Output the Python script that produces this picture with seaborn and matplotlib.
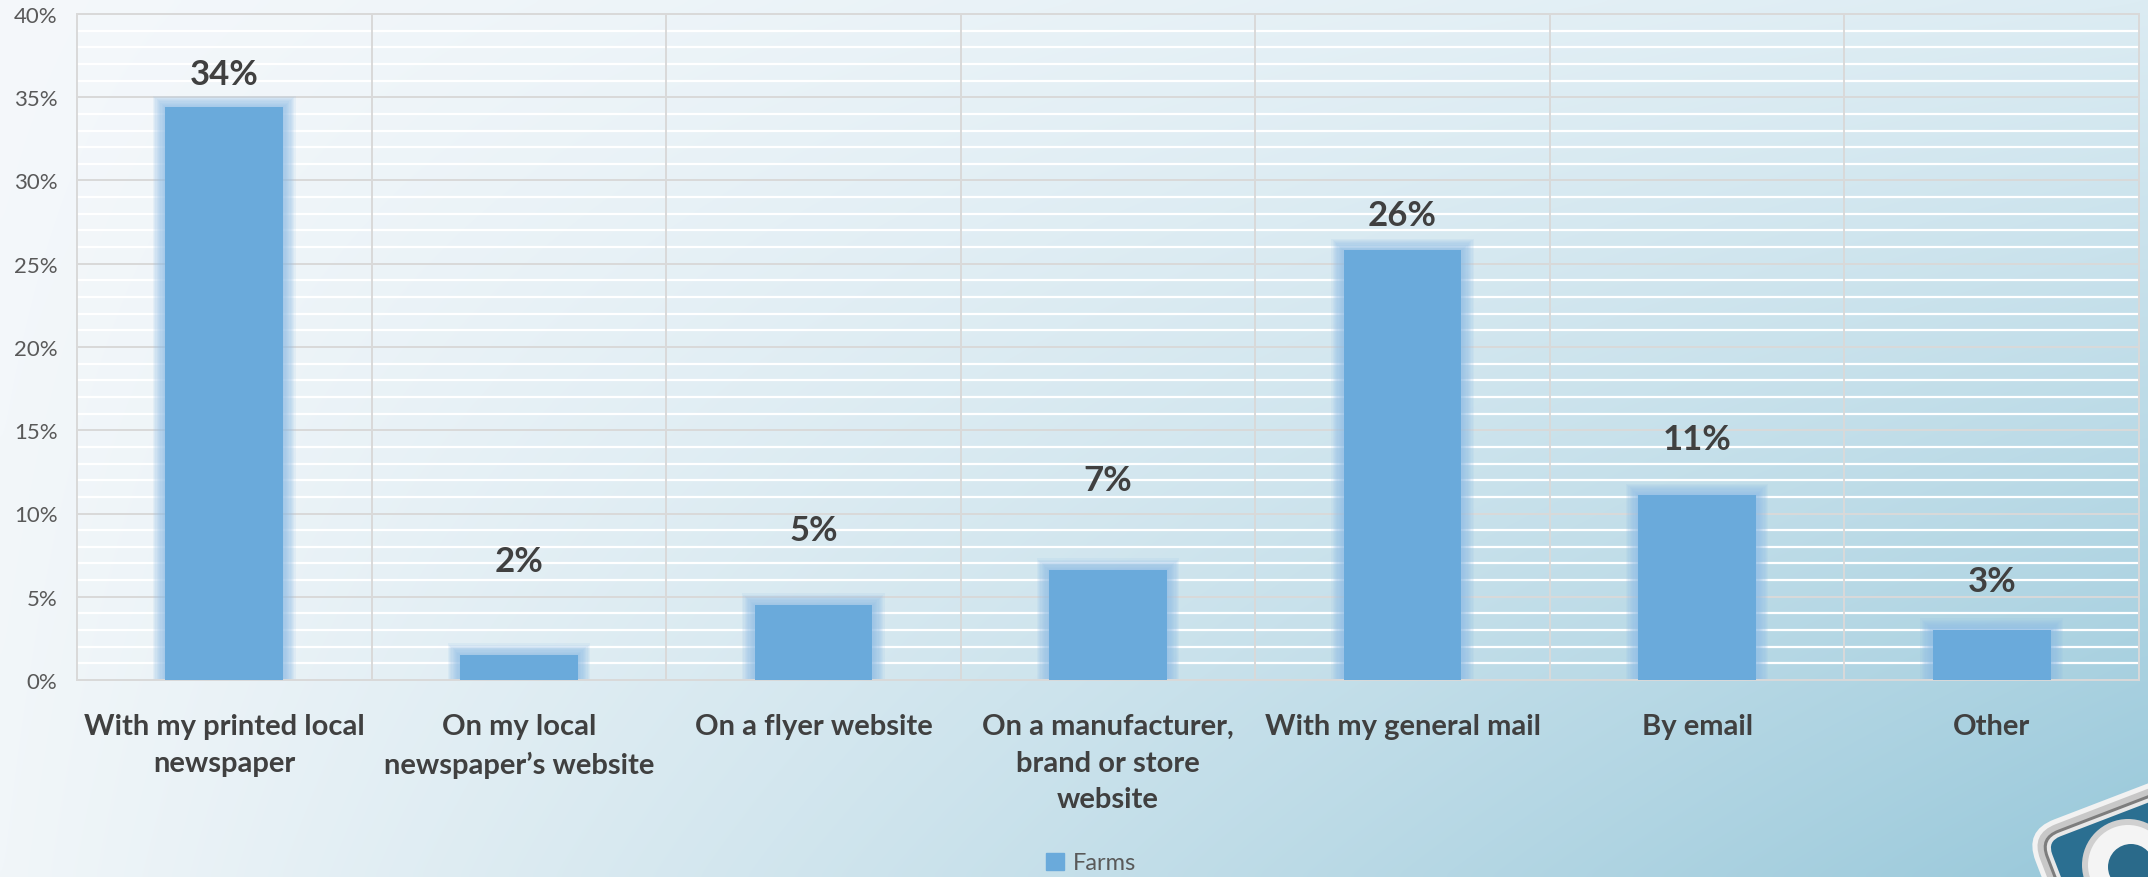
import numpy as np
import pandas as pd
import matplotlib
matplotlib.use("Agg")
import matplotlib.pyplot as plt
import seaborn as sns
from matplotlib.patches import FancyBboxPatch, Circle, Patch
from matplotlib.transforms import Affine2D, IdentityTransform
from matplotlib.ticker import MultipleLocator

categories = ["With my printed local\nnewspaper", "On my local\nnewspaper\u2019s website",
              "On a flyer website", "On a manufacturer,\nbrand or store\nwebsite",
              "With my general mail", "By email", "Other"]
values = [34.4, 1.5, 4.5, 6.6, 25.8, 11.1, 3.0]
value_labels = ["34%", "2%", "5%", "7%", "26%", "11%", "3%"]
series_name = "Farms"

# where Excel put each data label (in % units)
label_y = [36.4, 7.15, 9.0, 12.0, 27.9, 14.5, 5.95]

BAR = "#6aaadb"
GLOW = "#8fbde6"
TXT = "#404040"
TICK = "#595959"
GRID = "#d9d9d9"

sns.set_style("white")
plt.rcParams["font.family"] = ["Lato", "DejaVu Sans"]

W, H, DPI = 2148, 878, 100
fig = plt.figure(figsize=(W / DPI, H / DPI), dpi=DPI)

# background gradient (bilinear between corner colours)
def hex2rgb(h):
    return np.array([int(h[i:i + 2], 16) for i in (1, 3, 5)]) / 255.0

tl, tr, bl, br = [hex2rgb(c) for c in ("#f5f8fb", "#dcecf3", "#f1f6f9", "#98c8da")]
gx, gy = np.meshgrid(np.linspace(0, 1, 300), np.linspace(0, 1, 150))
gx3, gy3 = gx[..., None], gy[..., None]
grad = (tl * (1 - gx3) * (1 - gy3) + tr * gx3 * (1 - gy3)
        + bl * (1 - gx3) * gy3 + br * gx3 * gy3)
bg = fig.add_axes([0, 0, 1, 1], zorder=-10)
bg.imshow(grad, aspect="auto", extent=[0, 1, 0, 1], origin="upper", interpolation="bicubic")
bg.axis("off")

ax = fig.add_axes([77 / W, 1 - 681 / H, (2139 - 77) / W, (681 - 15) / H])
ax.patch.set_alpha(0)

df = pd.DataFrame({"category": categories, "value": values})
x = np.arange(len(categories))

# soft glow behind the bars
for i in range(10, 0, -1):
    grow = i * 0.0042
    ax.bar(x, np.array(values) + i * 0.07, width=0.4 + 2 * grow, color=GLOW,
           alpha=0.12, zorder=2, linewidth=0)

sns.barplot(data=df, x="category", y="value", color=BAR, saturation=1, width=0.4,
            ax=ax, zorder=3, linewidth=0)

for xi, ly, lab in zip(x, label_y, value_labels):
    ax.text(xi, ly, lab, ha="center", va="center", fontsize=25, fontweight="bold", color=TXT)

ax.set_ylim(0, 40)
ax.set_xlim(-0.5, len(categories) - 0.5)
ax.yaxis.set_major_locator(MultipleLocator(5))
ax.yaxis.set_minor_locator(MultipleLocator(1))
ax.set_yticklabels([f"{int(t)}%" for t in ax.get_yticks()])
ax.grid(which="minor", axis="y", color="white", linewidth=1.6, zorder=0)
ax.grid(which="major", axis="y", color=GRID, linewidth=1.4, zorder=1)
ax.set_axisbelow(True)
for b in np.arange(0.5, len(categories) - 0.5, 1.0):
    ax.axvline(b, color=GRID, linewidth=1.4, zorder=1)
for s in ax.spines.values():
    s.set_color(GRID)
    s.set_linewidth(1.4)

ax.tick_params(axis="y", which="both", length=0, pad=14, labelsize=16, labelcolor=TICK)
ax.tick_params(axis="x", length=0, pad=24)
for t in ax.get_xticklabels():
    t.set_fontsize(21)
    t.set_fontweight("bold")
    t.set_color(TXT)
    t.set_linespacing(1.5)
    t.set_verticalalignment("top")
ax.set_xlabel("")
ax.set_ylabel("")

fig.legend(handles=[Patch(color=BAR, label=series_name)], loc="center",
           bbox_to_anchor=(1091 / W, 1 - 864 / H), frameon=False, fontsize=17,
           labelcolor=TICK, handlelength=0.75, handleheight=0.75, handletextpad=0.4)

# corner logo tile
rot = Affine2D().rotate_deg(21).translate(2024, 46)
layers = [(0, "#f2f2f2"), (5, "#c8c8c8"), (11, "#7d7d7d"), (14, "#e8e8e8"), (18, "#2b6f91")]
for inset, col in layers:
    p = FancyBboxPatch((inset, -230 + inset), 230 - 2 * inset, 230 - 2 * inset,
                       boxstyle=f"round,pad=0,rounding_size={max(32 - inset, 8)}",
                       facecolor=col, edgecolor="none",
                       transform=rot + IdentityTransform())
    fig.patches.append(p)
fig.patches.append(Circle((2128, 12), 46, facecolor="#d0d0d0", edgecolor="none",
                          transform=IdentityTransform()))
fig.patches.append(Circle((2128, 12), 40, facecolor="#f4f4f4", edgecolor="none",
                          transform=IdentityTransform()))
fig.patches.append(Circle((2131, 10), 23, facecolor="#2a6a8a", edgecolor="none",
                          transform=IdentityTransform()))

fig.savefig("out.png", dpi=DPI)
plt.close(fig)
